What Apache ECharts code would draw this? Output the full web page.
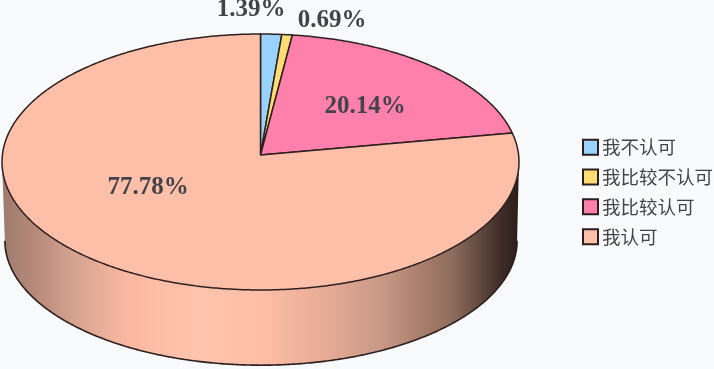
<!DOCTYPE html>
<html><head><meta charset="utf-8">
<style>html,body{margin:0;padding:0;background:#f9fafc}#c{width:714px;height:369px}</style>
<script src="https://cdn.jsdelivr.net/npm/echarts@6/dist/echarts.min.js"></script>
</head><body><div id="c"></div>
<script>
const categories = ['我不认可','我比较不认可','我比较认可','我认可'];
const shares = [1.39, 0.69, 20.14, 77.78];
const shareLabels = ['1.39%','0.69%','20.14%','77.78%'];
const colors = ['#99d3fb','#ffdc73','#ff80ab','#ffbfa9'];
const labelAnchors = [[251,10],[332,21],[365,107],[148,188]];
const wallStops = [[0,'#9d7b6d'],[0.07,'#b98b7b'],[0.146,'#d8a592'],[0.244,'#fbb8a2'],[0.38,'#ffc4ad'],[0.498,'#ffbea8'],[0.615,'#e9ad97'],[0.73,'#c99a87'],[0.81,'#ab7f6d'],[0.87,'#8f6d5e'],[0.93,'#5c453c'],[0.967,'#3d2b26'],[1,'#2b1e1a']];
const EDGE = '#2e2020';
const K = -0.0547;
const top3d = {cx:260.5, cy:155, a:258.1, b:127.6};
const bot3d = {cx:261, cy:234, a:255.7, b:124};
function pt(g, deg){
  const t = deg*Math.PI/180, u = Math.sin(t), v = -Math.cos(t), w = 1+K*v;
  return [g.cx+g.a*u/w, g.cy+g.b*v/w];
}
function arc(g, from, to){
  const n = Math.max(2, Math.ceil(Math.abs(to-from)/0.5)), out=[];
  for(let i=0;i<=n;i++) out.push(pt(g, from+(to-from)*i/n));
  return out;
}
const total = shares.reduce((a,b)=>a+b,0);
const WALL_FROM = 93.1, WALL_TO = 266.9;
function makeRender(idx){
  return function(params, api){
    const before = shares.slice(0,idx).reduce((a,b)=>a+b,0);
    const s = before/total*360, e = (before+api.value(0))/total*360;
    const children = [];
    const ws = Math.max(s, WALL_FROM), we = Math.min(e, WALL_TO);
    if(we>ws){
      const wall = arc(top3d, ws, we).concat(arc(bot3d, we, ws));
      children.push({type:'polygon', shape:{points:wall}, style:{fill:new echarts.graphic.LinearGradient(0,0,1,0,wallStops.map(x=>({offset:x[0],color:x[1]}))), stroke:null}});
      children.push({type:'polyline', shape:{points:arc(bot3d, ws, we)}, style:{fill:null, stroke:EDGE, lineWidth:1.6}});
    }
    const top = [[top3d.cx, top3d.cy]].concat(arc(top3d, s, e));
    children.push({type:'polygon', shape:{points:top}, style:{fill:colors[idx], stroke:EDGE, lineWidth:1.5, lineJoin:'round'}});
    children.push({type:'text', x:labelAnchors[idx][0], y:labelAnchors[idx][1], style:{text:shareLabels[idx], fill:'#43444a', font:'bold 25px "Liberation Serif"', align:'center', verticalAlign:'middle'}});
    return {type:'group', children};
  };
}
const chart = echarts.init(document.getElementById('c'), null, {renderer:'canvas'});
chart.setOption({
  animation:false,
  backgroundColor:'#f9fafc',
  legend:{
    orient:'vertical', left:577, top:133, itemWidth:15, itemHeight:15, itemGap:11.3,
    icon:'rect', selectedMode:false,
    itemStyle:{borderColor:'#2a1e1e', borderWidth:2},
    textStyle:{fontFamily:'"Noto Sans CJK SC"', fontSize:18.5, lineHeight:15, color:'#444', padding:[0,0,0,-1]}
  },
  series: categories.map((name,i)=>({
    type:'custom', name, coordinateSystem:'none', silent:true, clip:false,
    itemStyle:{color:colors[i]},
    data:[[shares[i]]],
    renderItem:makeRender(i)
  }))
});
</script></body></html>
